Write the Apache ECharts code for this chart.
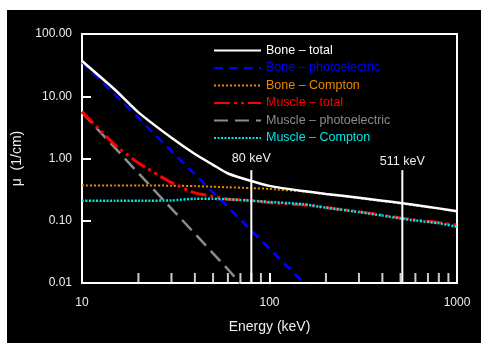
<!DOCTYPE html>
<html>
<head>
<meta charset="utf-8">
<script src="https://cdn.jsdelivr.net/npm/echarts@6/dist/echarts.min.js"></script>
<style>
  html, body { margin: 0; padding: 0; background: #fff; }
  #chart { position: absolute; left: 7px; top: 10px; width: 474px; height: 333px; }
</style>
</head>
<body>
<div id="chart"></div>
<script>
// energies in keV, attenuation in 1/cm
var energies = [10, 15, 20, 30, 40, 50, 60, 80, 100, 150, 200, 300, 400, 500, 600, 800, 1000]
var boneTotal = [36.8, 12.7, 5.5, 2.15, 1.18, 0.79, 0.574, 0.435, 0.363, 0.30, 0.27, 0.234, 0.21, 0.193, 0.179, 0.158, 0.142]
var boneCompton = [0.37, 0.37, 0.368, 0.366, 0.36, 0.352, 0.345, 0.335, 0.325, 0.295, 0.268, 0.23, 0.206, 0.19, 0.176, 0.156, 0.14]
var muscleTotal = [5.65, 1.65, 0.85, 0.41, 0.28, 0.245, 0.222, 0.212, 0.195, 0.18, 0.163, 0.14, 0.123, 0.111, 0.103, 0.094, 0.0855]
var muscleCompton = [0.21, 0.21, 0.21, 0.212, 0.226, 0.225, 0.222, 0.21, 0.2, 0.185, 0.162, 0.138, 0.121, 0.109, 0.101, 0.091, 0.080]

var bonePhotoE = [10, 20, 30, 40, 50, 60, 80, 100, 150, 160]
var bonePhoto = [35.5, 4.44, 1.31, 0.555, 0.284, 0.164, 0.069, 0.0355, 0.0105, 0.0087]
var musclePhotoE = [10, 15, 20, 30, 40, 50, 60, 70]
var musclePhoto = [5.5, 1.48, 0.58, 0.157, 0.062, 0.030, 0.0166, 0.0098]

// reference lines
var markerE = [80, 511]
var markerLabels = ['80 keV', '511 keV']
var markerTop = 0.65
var markerLabelGap = [5, 2]

// minor ticks on the energy axis
var minorTicks = [20, 30, 40, 50, 60, 70, 80, 90, 200, 300, 400, 500, 600, 700, 800, 900]

var names = ['Bone – total', 'Bone – photoelectric', 'Bone – Compton',
  'Muscle – total', 'Muscle – photoelectric', 'Muscle – Compton']
var colors = ['#ffffff', '#0000ff', '#e68a00', '#ff0000', '#8c8c8c', '#00e6e6']

function pairs (xs, ys) {
  return xs.map(function (x, i) { return [x, ys[i]] })
}

var font = 'Liberation Sans, Arial, sans-serif'
var txt = '#eeeeee'

function lineSeries (i, data, lineStyle, z, smooth) {
  return {
    name: names[i],
    type: 'line',
    data: data,
    showSymbol: false,
    symbol: 'none',
    smooth: smooth || false,
    z: z,
    lineStyle: Object.assign({ color: colors[i] }, lineStyle),
    itemStyle: { color: colors[i] }
  }
}

var series = [
  lineSeries(1, pairs(bonePhotoE, bonePhoto), { width: 2.5, type: [9, 6] }, 2),
  lineSeries(2, pairs(energies, boneCompton), { width: 2, type: [2, 2] }, 2, 0.2),
  lineSeries(0, pairs(energies, boneTotal), { width: 2.5, type: 'solid' }, 5, 0.2),
  lineSeries(4, pairs(musclePhotoE, musclePhoto), { width: 2.5, type: [14, 7] }, 2),
  lineSeries(3, pairs(energies, muscleTotal), { width: 3, type: [16, 4, 3, 4, 3, 4] }, 3, 0.2),
  lineSeries(5, pairs(energies, muscleCompton), { width: 2.5, type: [2, 1.5] }, 4, 0.2)
]

markerE.forEach(function (e, i) {
  series.push({
    type: 'line',
    silent: true,
    z: 6,
    symbol: 'circle',
    symbolSize: 0.1,
    lineStyle: { color: '#ffffff', width: 2 },
    itemStyle: { color: '#ffffff' },
    data: [
      [e, 0.01],
      {
        value: [e, markerTop],
        label: {
          show: true, position: 'top', distance: markerLabelGap[i],
          formatter: markerLabels[i], color: txt, fontSize: 12.5, fontFamily: font
        }
      }
    ]
  })
})

series.push({
  type: 'scatter',
  silent: true,
  z: 7,
  symbol: 'rect',
  symbolSize: [2, 10],
  symbolOffset: [0, -5],
  itemStyle: { color: '#ffffff' },
  data: minorTicks.map(function (e) { return [e, 0.01] })
})

var chart = echarts.init(document.getElementById('chart'))
chart.setOption({
  backgroundColor: '#000000',
  animation: false,
  grid: {
    left: 75, top: 24, right: 24, bottom: 60,
    outerBoundsMode: 'none',
    containLabel: false,
    show: true, borderColor: '#ffffff', borderWidth: 2
  },
  legend: {
    orient: 'vertical',
    left: 206,
    top: 34,
    padding: 0,
    itemWidth: 47,
    itemHeight: 14,
    itemGap: 4.5,
    selectedMode: false,
    itemStyle: { color: 'rgba(0,0,0,0)', borderWidth: 0, opacity: 0 },
    textStyle: { fontSize: 12.5, fontFamily: font },
    data: names.map(function (n, i) {
      return { name: n, textStyle: { color: colors[i] } }
    })
  },
  xAxis: {
    type: 'log',
    logBase: 10,
    min: 10,
    max: 1000,
    name: 'Energy (keV)',
    nameLocation: 'middle',
    nameGap: 37,
    nameTextStyle: { color: txt, fontSize: 14, fontFamily: font },
    axisLine: { lineStyle: { color: '#ffffff', width: 2 } },
    axisTick: { inside: true, length: 10, lineStyle: { color: '#ffffff', width: 2 } },
    axisLabel: {
      color: txt, fontSize: 12, fontFamily: font, margin: 14,
      formatter: function (v) { return String(Math.round(v)) }
    },
    splitLine: { show: false }
  },
  yAxis: {
    type: 'log',
    logBase: 10,
    min: 0.01,
    max: 100,
    name: 'μ  (1/cm)',
    nameLocation: 'middle',
    nameGap: 55,
    nameTextStyle: { color: txt, fontSize: 14, fontFamily: font },
    axisLine: { lineStyle: { color: '#ffffff', width: 2 } },
    axisTick: { inside: true, length: 9, lineStyle: { color: '#ffffff', width: 2 } },
    axisLabel: {
      color: txt, fontSize: 12, fontFamily: font, margin: 10,
      formatter: function (v) { return Number(v).toFixed(2) }
    },
    splitLine: { show: false }
  },
  series: series
})
</script>
</body>
</html>
